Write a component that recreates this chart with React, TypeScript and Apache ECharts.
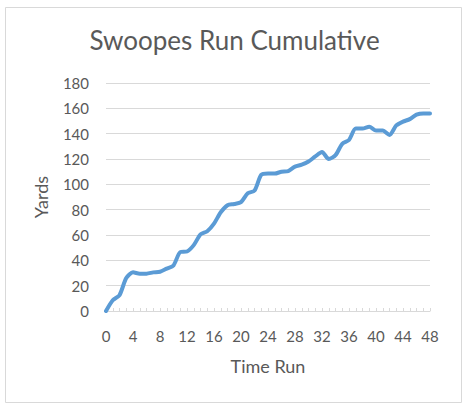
import React, { useEffect, useRef } from "react";
import * as echarts from "echarts";

const categories: string[] = Array.from({ length: 49 }, (_, i) => String(i));
const yards: number[] = [
  0, 8.5, 12.5, 26, 30.5, 29.5, 29.5, 30.5, 31, 33.5,
  36, 46.5, 47, 52, 60.5, 63, 69, 78, 83.5, 84.5,
  86, 93, 95, 107.5, 108.5, 108.5, 110, 110.5, 114, 115.5,
  118, 122, 125.5, 120, 123, 132, 135, 144, 144, 145.5,
  142.5, 142.5, 139, 146.5, 149.5, 151.5, 155, 156, 156,
];
const yTicks = { min: 0, max: 180, interval: 20 };

export default function App() {
  const ref = useRef<HTMLDivElement>(null);
  useEffect(() => {
    if (!ref.current) return;
    const chart = echarts.init(ref.current, null, { renderer: "svg" });
    const font = "Lato";
    chart.setOption({
      animation: false,
      backgroundColor: "#ffffff",
      title: {
        text: "Swoopes Run Cumulative",
        left: "center",
        top: 22,
        textStyle: { fontFamily: font, fontSize: 26, fontWeight: "normal", color: "#595959" },
      },
      graphic: [
        {
          type: "rect",
          shape: { x: 5.5, y: 7.5, width: 456, height: 395 },
          style: { fill: "none", stroke: "#d9d9d9", lineWidth: 1 },
          silent: true,
        },
      ],
      grid: { left: 106, right: 39, top: 83, bottom: 101 },
      xAxis: {
        type: "category",
        data: categories,
        boundaryGap: false,
        name: "Time Run",
        nameLocation: "middle",
        nameGap: 46,
        nameTextStyle: { fontFamily: font, fontSize: 18, color: "#595959" },
        axisLine: { lineStyle: { color: "#d9d9d9", width: 1 } },
        axisTick: { show: true, inside: true, length: 3, interval: 0, lineStyle: { color: "#d9d9d9" } },
        axisLabel: {
          interval: 3,
          margin: 17,
          fontFamily: font,
          fontSize: 15,
          color: "#595959",
        },
        splitLine: { show: false },
      },
      yAxis: {
        type: "value",
        min: yTicks.min,
        max: yTicks.max,
        interval: yTicks.interval,
        name: "Yards",
        nameLocation: "middle",
        nameGap: 56,
        nameTextStyle: { fontFamily: font, fontSize: 18, color: "#595959" },
        axisLine: { show: false },
        axisTick: { show: false },
        axisLabel: { margin: 17, fontFamily: font, fontSize: 15, color: "#595959" },
        splitLine: { lineStyle: { color: "#d9d9d9", width: 1 } },
      },
      series: [
        {
          type: "line",
          data: yards,
          smooth: 0.25,
          symbol: "none",
          lineStyle: { color: "#5b9bd5", width: 4, cap: "round", join: "round" },
        },
      ],
    });
    return () => chart.dispose();
  }, []);
  return (
    <div
      ref={ref}
      style={{ position: "fixed", left: 0, top: 0, width: 469, height: 412 }}
    />
  );
}
